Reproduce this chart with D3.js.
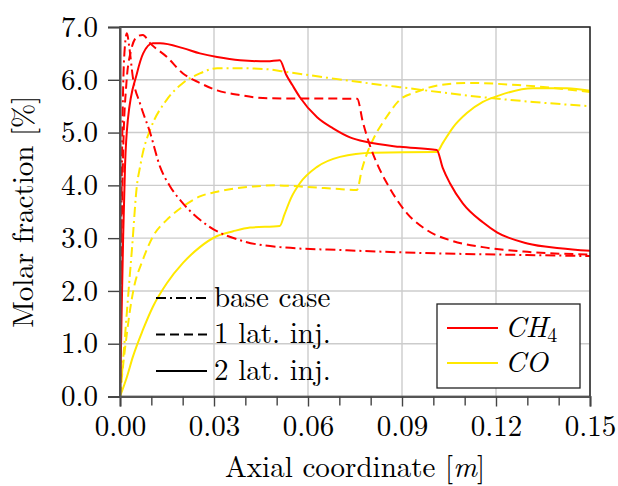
<!DOCTYPE html>
<html>
<head>
<meta charset="utf-8">
<script src="https://cdn.jsdelivr.net/npm/d3@7"></script>
<style>
  body { margin: 0; background: #fff; }
</style>
</head>
<body>
<svg id="chart"></svg>
<script>
// tick values
const xTicks = [0, 0.03, 0.06, 0.09, 0.12, 0.15];
const xMinor = [0.01, 0.02, 0.04, 0.05, 0.07, 0.08, 0.10, 0.11, 0.13, 0.14];
const yTicks = [0, 1, 2, 3, 4, 5, 6, 7];

// CH4 molar fraction [%] vs axial coordinate [m]
const ch4Base = [[0,0],[0.0003,2.5],[0.0008,5.2],[0.0014,6.5],[0.0022,6.88],[0.003,6.6],[0.0041,6.05],
  [0.0064,5.55],[0.0096,5.0],[0.0128,4.35],[0.016,3.98],[0.0201,3.66],[0.0287,3.21],[0.0383,2.96],
  [0.051,2.83],[0.0724,2.77],[0.09,2.73],[0.11,2.7],[0.13,2.68],[0.15,2.66]];
const ch4One = [[0,0],[0.0004,2.5],[0.001,4.6],[0.002,5.9],[0.0035,6.55],[0.0055,6.82],[0.0073,6.85],
  [0.0095,6.7],[0.015,6.43],[0.0201,6.12],[0.0255,5.94],[0.031,5.8],[0.0383,5.71],[0.047,5.65],
  [0.0757,5.64],[0.0775,5.2],[0.0798,4.75],[0.0825,4.35],[0.0852,4.04],[0.0916,3.47],[0.098,3.15],
  [0.1053,2.96],[0.1158,2.83],[0.13,2.74],[0.15,2.69]];
const ch4Two = [[0,0],[0.0005,1.5],[0.001,3.0],[0.0016,4.36],[0.0025,5.24],[0.0054,6.12],[0.0074,6.5],
  [0.0105,6.69],[0.0128,6.69],[0.0201,6.6],[0.0255,6.5],[0.031,6.43],[0.0383,6.37],[0.047,6.35],
  [0.051,6.37],[0.053,6.1],[0.055,5.9],[0.0574,5.67],[0.0629,5.29],[0.068,5.08],[0.0734,4.91],
  [0.0788,4.82],[0.0893,4.73],[0.1011,4.67],[0.103,4.33],[0.1053,4.04],[0.1094,3.66],[0.1158,3.3],
  [0.1203,3.11],[0.13,2.9],[0.1404,2.81],[0.15,2.76]];

// CO molar fraction [%] vs axial coordinate [m]
const coBase = [[0,0],[0.001,0.7],[0.002,1.45],[0.003,2.2],[0.0038,2.78],[0.0054,4.0],[0.0064,4.35],
  [0.0073,4.62],[0.0096,5.05],[0.0149,5.62],[0.0201,5.94],[0.0255,6.12],[0.031,6.22],[0.038,6.22],
  [0.047,6.2],[0.053,6.15],[0.0734,5.98],[0.0893,5.86],[0.1158,5.67],[0.1318,5.58],[0.15,5.5]];
const coOne = [[0,0],[0.0011,0.65],[0.0021,1.15],[0.0032,1.64],[0.0043,2.02],[0.0073,2.59],[0.0105,3.03],
  [0.015,3.35],[0.0201,3.6],[0.0255,3.79],[0.031,3.88],[0.041,3.97],[0.05,4.0],[0.0597,3.97],
  [0.07,3.93],[0.0756,3.91],[0.0772,4.3],[0.0785,4.55],[0.0807,4.86],[0.085,5.29],[0.0893,5.62],
  [0.0947,5.77],[0.102,5.9],[0.111,5.94],[0.127,5.9],[0.15,5.77]];
const coTwo = [[0,0],[0.0022,0.37],[0.0041,0.75],[0.0073,1.26],[0.0105,1.7],[0.015,2.15],[0.0201,2.53],
  [0.0255,2.83],[0.031,3.04],[0.0361,3.13],[0.0415,3.2],[0.051,3.23],[0.0525,3.45],[0.0545,3.75],
  [0.0574,4.04],[0.0629,4.35],[0.0702,4.54],[0.0807,4.62],[0.1011,4.63],[0.103,4.8],[0.1063,5.1],
  [0.1107,5.37],[0.1158,5.58],[0.1213,5.71],[0.1318,5.84],[0.1426,5.84],[0.15,5.79]];

const cases = ["base case", "1 lat. inj.", "2 lat. inj."];
const dashes = ["10,4,2,4", "9,5", null];

const width = 618;
const height = 486;
const margin = { top: 27, right: 28, bottom: 89, left: 120 };

const red = "#ff0000";
const yellow = "#ffe800";
const font = '"Latin Modern Roman", "Liberation Serif", serif';
const fs = 29;

const svg = d3.select("#chart")
    .attr("width", width)
    .attr("height", height);

const x = d3.scaleLinear()
    .domain([0, 0.15])
    .range([margin.left, width - margin.right]);

const y = d3.scaleLinear()
    .domain([0, 7])
    .range([height - margin.bottom - 0.5, margin.top]);

// grid
svg.append("g")
    .selectAll("line")
    .data(xTicks)
    .join("line")
    .attr("x1", d => x(d)).attr("x2", d => x(d))
    .attr("y1", y(0)).attr("y2", y(7))
    .attr("stroke", "#cccccc")
    .attr("stroke-width", 1.4);

svg.append("g")
    .selectAll("line")
    .data(yTicks)
    .join("line")
    .attr("x1", x(0)).attr("x2", x(0.15))
    .attr("y1", d => y(d)).attr("y2", d => y(d))
    .attr("stroke", "#cccccc")
    .attr("stroke-width", 1.4);

// curves
svg.append("clipPath").attr("id", "clip")
    .append("rect")
    .attr("x", x(0)).attr("y", y(7) - 3)
    .attr("width", x(0.15) - x(0)).attr("height", y(0) - y(7) + 3);

const line = d3.line()
    .x(d => x(d[0]))
    .y(d => y(d[1]))
    .curve(d3.curveMonotoneX);

const series = [
    { data: coBase, color: yellow, dash: dashes[0] },
    { data: coOne, color: yellow, dash: dashes[1] },
    { data: coTwo, color: yellow, dash: dashes[2] },
    { data: ch4Base, color: red, dash: dashes[0] },
    { data: ch4One, color: red, dash: dashes[1] },
    { data: ch4Two, color: red, dash: dashes[2] }
];

svg.append("g")
    .attr("clip-path", "url(#clip)")
    .selectAll("path")
    .data(series)
    .join("path")
    .attr("d", d => line(d.data))
    .attr("fill", "none")
    .attr("stroke", d => d.color)
    .attr("stroke-width", 2)
    .attr("stroke-dasharray", d => d.dash);

// frame
svg.append("rect")
    .attr("x", x(0)).attr("y", y(7))
    .attr("width", x(0.15) - x(0)).attr("height", y(0) - y(7))
    .attr("fill", "none")
    .attr("stroke", "#222")
    .attr("stroke-width", 1.5);

// axes
svg.append("g")
    .attr("transform", `translate(0,${y(0)})`)
    .call(d3.axisBottom(x).tickValues(xTicks).tickFormat(d3.format(".2f")).tickSize(10).tickPadding(9));

svg.append("g")
    .attr("transform", `translate(0,${y(0)})`)
    .call(d3.axisBottom(x).tickValues(xMinor).tickFormat("").tickSize(9))
    .call(g => g.select(".domain").remove());

svg.append("g")
    .attr("transform", `translate(${x(0)},0)`)
    .call(d3.axisLeft(y).tickValues(yTicks).tickFormat(d3.format(".1f")).tickSize(12).tickPadding(10));

svg.selectAll(".tick line").attr("stroke", "#444").attr("stroke-width", 1.4);
svg.selectAll(".domain").attr("stroke", "#555").attr("stroke-width", 2);
svg.selectAll(".tick text")
    .style("font-family", font)
    .style("font-size", fs + "px")
    .attr("fill", "#000");

// axis titles
const xt = svg.append("text")
    .attr("x", (x(0) + x(0.15)) / 2)
    .attr("y", 477)
    .attr("text-anchor", "middle")
    .style("font-family", font)
    .style("font-size", fs + "px");
xt.append("tspan").text("Axial coordinate [");
xt.append("tspan").style("font-style", "italic").text("m");
xt.append("tspan").text("]");

svg.append("text")
    .attr("transform", `translate(33,${(y(0) + y(7)) / 2}) rotate(-90)`)
    .attr("text-anchor", "middle")
    .style("font-family", font)
    .style("font-size", fs + "px")
    .text("Molar fraction [%]");

// line style legend
const leg1 = svg.append("g");
cases.forEach((c, i) => {
    const yy = 298 + i * 36.5;
    leg1.append("line")
        .attr("x1", 156).attr("x2", 207)
        .attr("y1", yy).attr("y2", yy)
        .attr("stroke", "#000")
        .attr("stroke-width", 2)
        .attr("stroke-dasharray", dashes[i]);
    leg1.append("text")
        .attr("x", 214)
        .attr("y", yy + 8.5)
        .style("font-family", font)
        .style("font-size", fs + "px")
        .text(c);
});

// species legend
const leg2 = svg.append("g");
leg2.append("rect")
    .attr("x", 437).attr("y", 304)
    .attr("width", 143).attr("height", 84)
    .attr("fill", "#fff")
    .attr("stroke", "#222")
    .attr("stroke-width", 1.3);

[[red, "CH", "4"], [yellow, "CO", null]].forEach((s, i) => {
    const yy = 328 + i * 35;
    leg2.append("line")
        .attr("x1", 447).attr("x2", 498)
        .attr("y1", yy).attr("y2", yy)
        .attr("stroke", s[0])
        .attr("stroke-width", 2);
    const t = leg2.append("text")
        .attr("x", 505)
        .attr("y", yy + 8.5)
        .style("font-family", font)
        .style("font-size", fs + "px");
    t.append("tspan").style("font-style", "italic").text(s[1]);
    if (s[2]) {
        t.append("tspan")
            .attr("dy", 5)
            .style("font-size", "20px")
            .text(s[2]);
    }
});
</script>
</body>
</html>
